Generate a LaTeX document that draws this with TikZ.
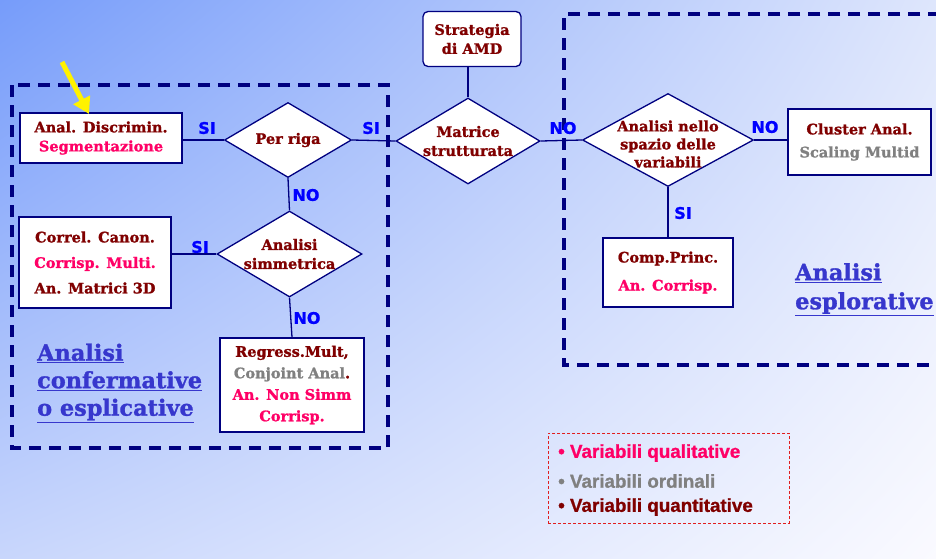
\documentclass[tikz,border=0pt]{standalone}
\usepackage{fontspec}
\setmainfont{DejaVuSerif.ttf}[BoldFont=DejaVuSerif-Bold.ttf, BoldFeatures={FakeBold=1.2}]
\newfontfamily\lblfont{DejaVuSans-Bold.ttf}[FakeBold=1]
\newfontfamily\legfont{Liberation Sans}[BoldFeatures={FakeBold=1}]
\usetikzlibrary{shapes.geometric,arrows.meta,shadings}
\definecolor{navy}{RGB}{0,0,128}
\definecolor{dred}{RGB}{128,0,0}
\definecolor{pinkc}{RGB}{255,0,102}
\definecolor{gry}{RGB}{128,128,128}
\definecolor{lblue}{RGB}{0,0,255}
\definecolor{ttlc}{RGB}{55,55,205}
\definecolor{bgUL}{RGB}{118,156,250}
\definecolor{bgUR}{RGB}{222,230,252}
\definecolor{bgLL}{RGB}{200,214,252}
\definecolor{bgLR}{RGB}{250,250,255}
\definecolor{legred}{RGB}{225,30,30}
\begin{document}
\begin{tikzpicture}[x=1pt,y=-1pt,
  conn/.style={draw=navy, line width=1.3pt},
  bx/.style={draw=navy, line width=1.3pt, fill=white, inner sep=0pt, align=center,
    font=\bfseries\fontsize{14.5}{19}\selectfont, text=dred},
  dia/.style={diamond, draw=navy, line width=1.3pt, fill=white, inner sep=0pt},
  dtxt/.style={align=center, inner sep=0pt, font=\bfseries\fontsize{14.5}{19}\selectfont, text=dred},
  yn/.style={inner sep=0pt, font=\lblfont\fontsize{16}{18}\selectfont, text=lblue},
  dbox/.style={draw=navy, line width=3.2pt, dash pattern=on 12pt off 8pt},
  ttl/.style={inner sep=0pt, align=left, font=\bfseries\fontsize{22.4}{27.5}\selectfont, text=ttlc},
  leg/.style={inner sep=0pt, anchor=west, font=\legfont\bfseries\fontsize{18.8}{20}\selectfont},
  yarrow/.style={draw=yellow, line width=5pt, -{Triangle[width=18pt,length=16pt]}}
]
\useasboundingbox (0,0) rectangle (936,558);
\clip (0,0) rectangle (936,558);
\shade[upper left=bgUL, upper right=bgUR, lower left=bgLL, lower right=bgLR] (0,0) rectangle (936,558);

% dashed regions
\draw[dbox] (12,85) rectangle (388,448);
\draw[dbox] (960,14) -- (564,14) -- (564,365) -- (960,365);

% nodes
\node[bx, minimum width=162pt, minimum height=50pt] (disc) at (101,138)
  {Anal. Discrimin.\\\textcolor{pinkc}{Segmentazione}};
\node[dia, minimum width=127pt, minimum height=75pt] (riga) at (288,140) {};
\node[dtxt] (rigat) at (riga.center) {Per riga};
\node[dia, minimum width=144pt, minimum height=86pt] (matr) at (468,141) {};
\node[dtxt] (matrt) at (matr.center) {Matrice\\strutturata};
\node[bx, rounded corners=5pt, minimum width=98pt, minimum height=55pt] (strat) at (472,39)
  {Strategia\\di AMD};
\node[dia, minimum width=171pt, minimum height=93pt] (spaz) at (668,140) {};
\node[dtxt, font=\bfseries\fontsize{14.5}{18}\selectfont] (spazt) at (668,144) {Analisi nello\\spazio delle\\variabili};
\node[bx, minimum width=143pt, minimum height=66pt, font=\bfseries\fontsize{14.5}{23}\selectfont] (clus) at (859.5,142)
  {Cluster Anal.\\\textcolor{gry}{Scaling Multid}};
\node[bx, minimum width=130pt, minimum height=69pt, font=\bfseries\fontsize{14.5}{28}\selectfont] (comp) at (668,272.5)
  {Comp.Princ.\\\textcolor{pinkc}{An. Corrisp.}};
\node[dia, minimum width=145pt, minimum height=86pt] (simm) at (289.5,254) {};
\node[dtxt] (simmt) at (simm.center) {Analisi\\simmetrica};
\node[bx, minimum width=152pt, minimum height=91pt, font=\bfseries\fontsize{14.5}{25.5}\selectfont] (corr) at (95,262.5)
  {Correl. Canon.\\\textcolor{pinkc}{Corrisp. Multi.}\\An. Matrici 3D};
\node[bx, minimum width=144pt, minimum height=94pt, font=\bfseries\fontsize{14.5}{21.5}\selectfont] (regr) at (292,385)
  {Regress.Mult,\\\textcolor{gry}{Conjoint Anal}.\\\textcolor{pinkc}{An. Non Simm}\\\textcolor{pinkc}{Corrisp.}};

% connectors
\draw[conn] (riga.west) -- (riga.west -| disc.east);
\draw[conn] (riga.east) -- (matr.west);
\draw[conn] (strat.south -| matr.north) -- (matr.north);
\draw[conn] (matr.east) -- (spaz.west);
\draw[conn] (spaz.east) -- (spaz.east -| clus.west);
\draw[conn] (spaz.south) -- (comp.north);
\draw[conn] (riga.south) -- (simm.north);
\draw[conn] (simm.west) -- (simm.west -| corr.east);
\draw[conn] (simm.south) -- (regr.north);

% yes/no labels
\node[yn] (l1) at (207,128) {SI};
\node[yn] (l2) at (371,128) {SI};
\node[yn] (l3) at (563,128) {NO};
\node[yn] (l4) at (765,127) {NO};
\node[yn] (l5) at (683,213) {SI};
\node[yn] (l6) at (306,195) {NO};
\node[yn] (l7) at (200,247) {SI};
\node[yn] (l8) at (307,318) {NO};

% titles
\node[ttl, anchor=west] (conf) at (37,383)
  {\underline{Analisi}\\\underline{confermative}\\\underline{o esplicative}};
\node[ttl, anchor=west, font=\bfseries\fontsize{22.4}{29}\selectfont] (espl) at (795,289.5)
  {\underline{Analisi}\\\underline{esplorative}};

% legend
\node[draw=legred, line width=0.8pt, dash pattern=on 3pt off 2pt, minimum width=241pt, minimum height=90pt, inner sep=0pt] (legbox) at (668.5,478) {};
\node[leg, text=pinkc] (lg1) at (558,453) {• Variabili qualitative};
\node[leg, text=gry] (lg2) at (558,481) {• Variabili ordinali};
\node[leg, text=dred] (lg3) at (558,507) {• Variabili quantitative};

% yellow arrow
\coordinate (ya) at (62,62);
\coordinate (yb) at (89,114);
\draw[yarrow] (ya) -- (yb);
\end{tikzpicture}
\end{document}
